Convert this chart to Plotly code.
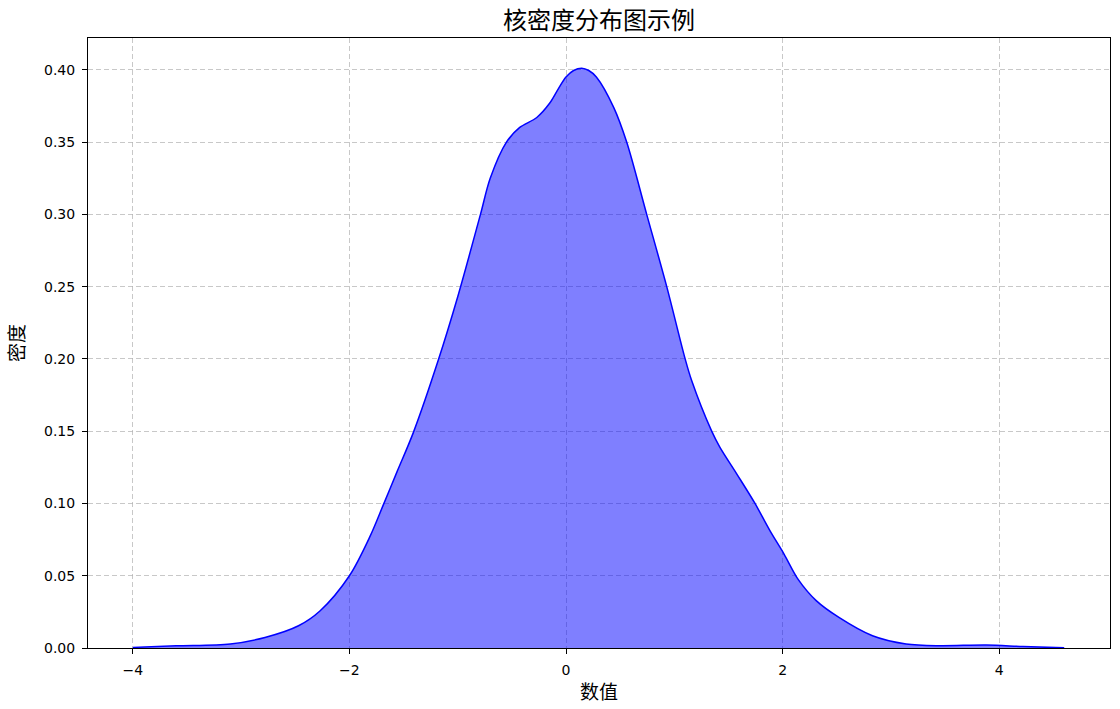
import plotly.graph_objects as go

# KDE curve
x_values = [-4.0, -3.6, -3.1, -2.78, -2.47, -2.27, -2.0, -1.81, -1.69, -1.56, -1.41, -1.18,
            -1.0, -0.79, -0.70, -0.55, -0.43, -0.27, -0.15, -0.07, 0.0, 0.07, 0.145, 0.21, 0.28, 0.44,
            0.56, 0.745, 0.93, 1.1, 1.16, 1.345, 1.42, 1.576, 1.745, 1.884, 2.013, 2.145, 2.31, 2.52,
            2.83, 3.14, 3.45, 3.88, 4.22, 4.6]
density = [0.0004, 0.0015, 0.0028, 0.0073, 0.0154, 0.0258, 0.050, 0.0772, 0.0985, 0.122, 0.149, 0.199,
           0.243, 0.300, 0.325, 0.350, 0.360, 0.367, 0.377, 0.387, 0.395, 0.3995, 0.4011, 0.3995, 0.395, 0.374,
           0.350, 0.300, 0.250, 0.200, 0.185, 0.150, 0.139, 0.1205, 0.100, 0.081, 0.065, 0.0473, 0.0328, 0.0212,
           0.0085, 0.0028, 0.0016, 0.0021, 0.001, 0.0001]

x_ticks = [-4, -2, 0, 2, 4]
y_ticks = [0.0, 0.05, 0.10, 0.15, 0.20, 0.25, 0.30, 0.35, 0.40]

FONT = "Noto Sans CJK SC, SimHei, sans-serif"
TICK_FONT = "DejaVu Sans, sans-serif"

fig = go.Figure()
fig.add_trace(go.Scatter(
    x=x_values, y=density, mode='lines', line=dict(color='blue', width=1.5, shape='spline', smoothing=0.9),
    fill='tozeroy', fillcolor='rgba(0,0,255,0.5)', showlegend=False
))

axis_style = dict(
    showline=True, linecolor='black', linewidth=1, mirror=True,
    ticks='outside', ticklen=5, tickcolor='black', ticklabelstandoff=4,
    showgrid=True, gridcolor='rgba(176,176,176,0.7)', griddash='5px,3px', gridwidth=1,
    zeroline=False, tickfont=dict(family=TICK_FONT, size=14, color='black'),
)

fig.update_layout(
    width=1120, height=709,
    margin=dict(l=88, r=10, t=38, b=61),
    paper_bgcolor='white', plot_bgcolor='white',
    title=dict(text='核密度分布图示例', xref='paper', x=0.5, xanchor='center', y=0.971, yanchor='middle',
               font=dict(family=FONT, size=24, color='black')),
    font=dict(family=FONT),
)
fig.update_xaxes(axis_style, range=[-4.414, 5.023], tickvals=x_ticks,
                 title=dict(text='数值', font=dict(family=FONT, size=19, color='black'), standoff=8))
fig.update_yaxes(axis_style, range=[0, 0.422], tickvals=y_ticks, tickformat='.2f',
                 title=dict(text='密度', font=dict(family=FONT, size=19, color='black'), standoff=14))

# drop the page's default body margin so the figure sits at the window's corner
fig.write_html("out.html", config={'displayModeBar': False},
               post_script="document.body.style.margin='0';")
